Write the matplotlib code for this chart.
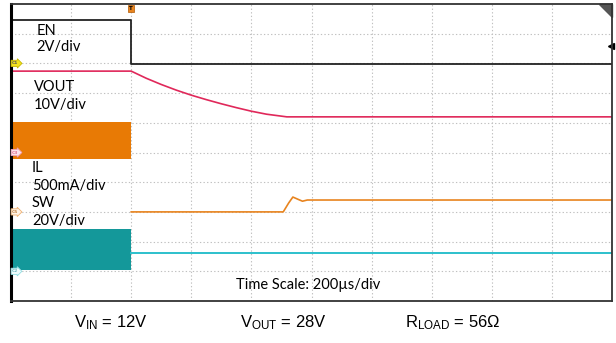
import matplotlib.pyplot as plt
import numpy as np

plt.rcParams['mathtext.fontset'] = 'custom'
plt.rcParams['mathtext.rm'] = 'Liberation Sans'
plt.rcParams['mathtext.it'] = 'Liberation Sans'

# scope traces, in divisions (x: 0..10 time, y: 0..10 screen)
en_t = [0.0, 2.0, 2.0, 10.0]
en_v = [9.45, 9.45, 7.98, 7.98]

vout_t = [0.0, 2.0, 2.25, 2.5, 2.75, 3.0, 3.25, 3.5, 3.75, 4.0, 4.25, 4.59, 10.0]
vout_v = [7.74, 7.74, 7.50, 7.29, 7.10, 6.93, 6.78, 6.64, 6.51, 6.39, 6.29, 6.20, 6.20]

il_t = [2.0, 4.53, 4.62, 4.69, 4.78, 4.85, 4.93, 10.0]
il_v = [3.00, 3.00, 3.30, 3.50, 3.42, 3.36, 3.40, 3.40]

sw_t = [2.0, 10.0]
sw_v = [1.62, 1.62]

# switching bursts before the trigger (drawn as solid bands)
il_burst_t = [0.0, 2.0]
il_burst_lo = [4.78, 4.78]
il_burst_hi = [6.03, 6.03]
sw_burst_t = [0.0, 2.0]
sw_burst_lo = [1.04, 1.04]
sw_burst_hi = [2.42, 2.42]

# channel ground markers: (name, level, face, edge, text colour)
ch_markers = [("C1", 8.0, "#f3e21c", "#c8b800", "#555555"),
              ("C3", 5.0, "#fbe3ea", "#f0a0b8", "#e07090"),
              ("C5", 3.0, "#fff3e6", "#f0b070", "#c08040"),
              ("C2", 1.0, "#eefbfc", "#90dde2", "#70b8c0")]

fig = plt.figure(figsize=(6.16, 3.43), dpi=100)
ax = fig.add_axes([11 / 616, 42 / 343, 601 / 616, 297 / 343])
ax.set_xlim(0, 10)
ax.set_ylim(0, 10)
ax.set_xticks(np.arange(1, 10))
ax.set_yticks(np.arange(1, 10))
ax.tick_params(length=0, labelbottom=False, labelleft=False)
ax.grid(True, color="#c0c0c0", linestyle=(0, (1.2, 2.0)), linewidth=0.8)
ax.set_axisbelow(True)

for side in ["top", "right", "bottom"]:
    ax.spines[side].set_color("#333333")
    ax.spines[side].set_linewidth(1.3)
ax.spines["left"].set_color("black")
ax.spines["left"].set_linewidth(2.2)

ax.fill_between(il_burst_t, il_burst_lo, il_burst_hi, color="#e87a05", lw=0)
ax.fill_between(sw_burst_t, sw_burst_lo, sw_burst_hi, color="#14989a", lw=0)

ax.plot(en_t, en_v, color="#222222", lw=1.3)
ax.plot(vout_t, vout_v, color="#e0285a", lw=1.2)
ax.plot(il_t, il_v, color="#e8841f", lw=1.2)
ax.plot(sw_t, sw_v, color="#2cc0cc", lw=1.4)

# labels on screen
lab = dict(fontsize=10.5, family="Lato", color="black", va="center", ha="left")
ax.text(0.42, 9.1, "EN", **lab)
ax.text(0.42, 8.55, "2V/div", **lab)
ax.text(0.38, 7.2, "VOUT", **lab)
ax.text(0.38, 6.6, "10V/div", **lab)
ax.text(0.35, 4.47, "IL", **lab)
ax.text(0.35, 3.87, "500mA/div", **lab)
ax.text(0.35, 3.3, "SW", **lab)
ax.text(0.35, 2.7, "20V/div", **lab)
ax.text(3.75, 0.54, "Time Scale: 200\u00b5s/div", **lab)

for name, lvl, face, edge, tc in ch_markers:
    ax.text(0.02, lvl, name, fontsize=3.2, color=tc, va="center", ha="left",
            fontweight="bold",
            bbox=dict(boxstyle="rarrow,pad=0.25", fc=face, ec=edge, lw=0.6))

# trigger marker
ax.text(2.0, 9.85, "T", fontsize=4, color="black", ha="center", va="center",
        fontweight="bold",
        bbox=dict(boxstyle="square,pad=0.2", fc="#e8841f", ec="#b05800", lw=0.5))
# trigger level arrow on the right
ax.plot([9.98], [8.59], marker="<", color="black", ms=4, clip_on=False)
# corner flag top right
ax.fill([0.979, 1.0, 1.0], [1.0, 1.0, 0.957], color="#555555",
        transform=ax.transAxes, clip_on=False)

# test conditions below the scope screen
cond = dict(fontsize=12, family="Liberation Sans", color="black",
            ha="center", va="center")
fig.text(111 / 616, 1 - 323 / 343, r"$\mathrm{V_{IN}}$ = 12V", **cond)
fig.text(283 / 616, 1 - 323 / 343, r"$\mathrm{V_{OUT}}$ = 28V", **cond)
fig.text(453 / 616, 1 - 323 / 343, r"$\mathrm{R_{LOAD}}$" + " = 56\u03a9", **cond)

fig.savefig("out.png", dpi=100)
